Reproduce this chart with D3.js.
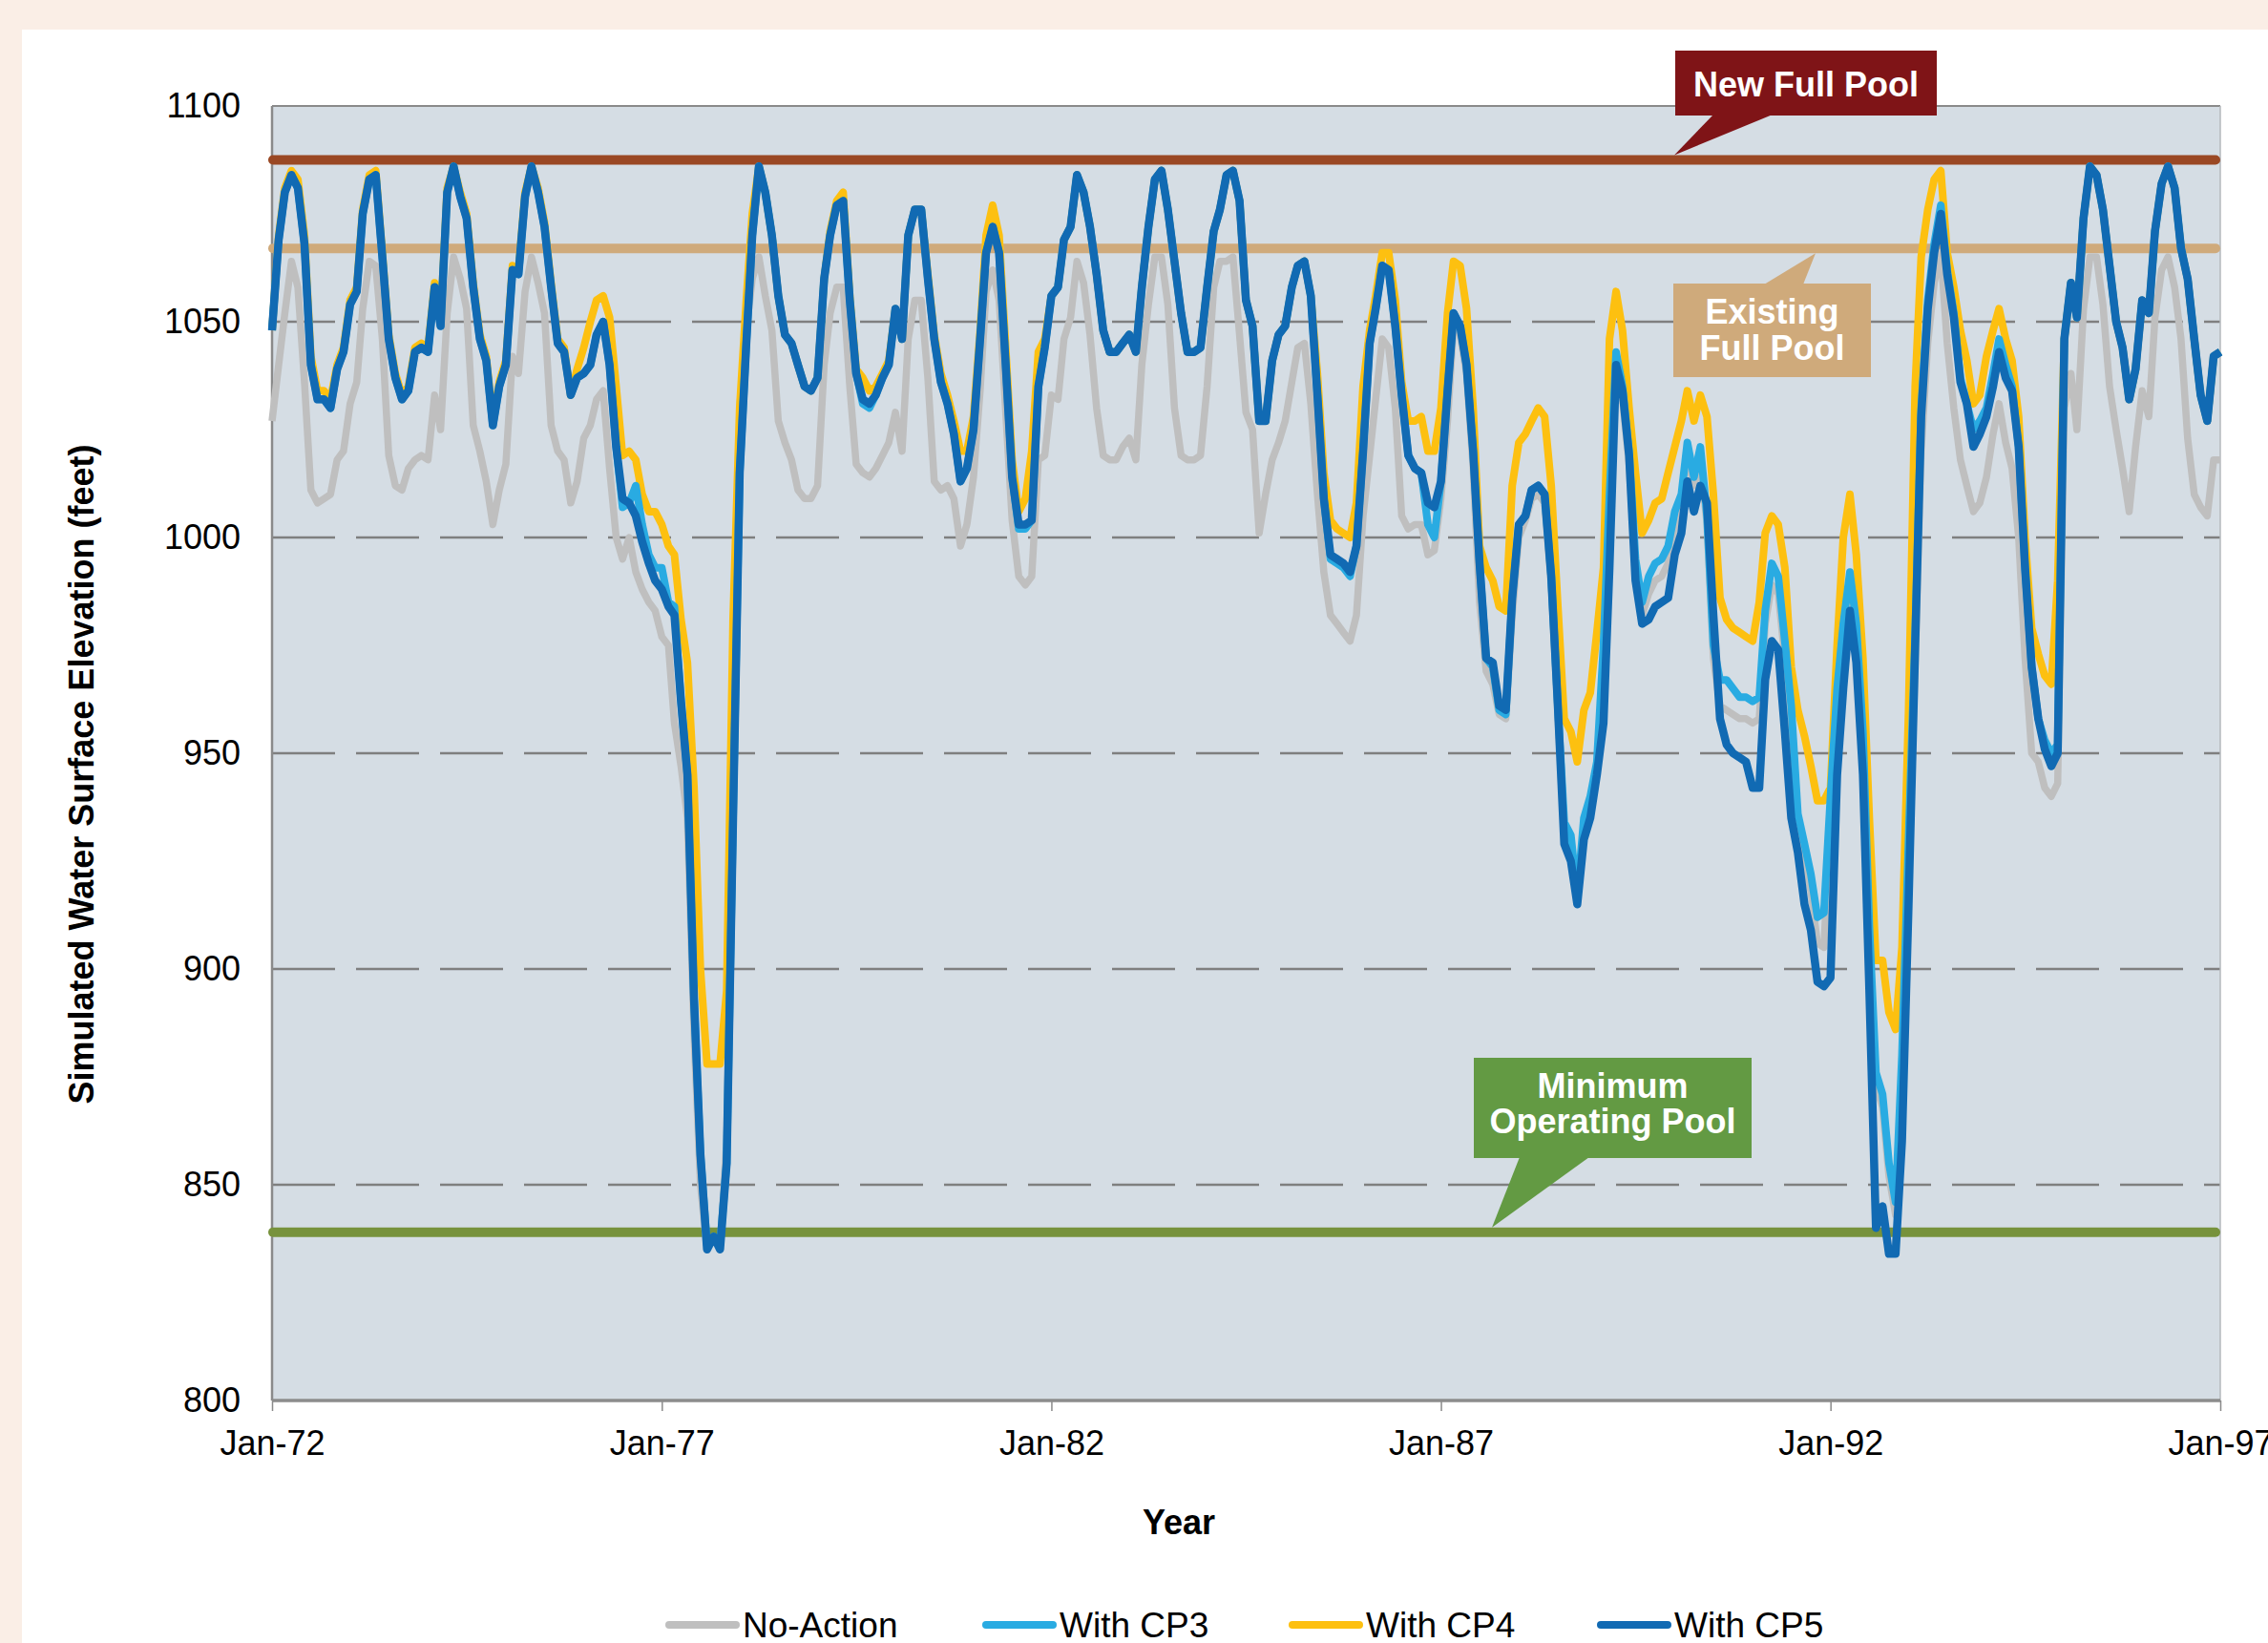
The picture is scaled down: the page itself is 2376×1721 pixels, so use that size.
<!DOCTYPE html>
<html><head><meta charset="utf-8">
<script src="https://cdn.jsdelivr.net/npm/d3@7"></script>
<style>
html,body{margin:0;padding:0;background:#FAEEE6;}
svg{display:block;}
text{font-family:"Liberation Sans",Arial,Helvetica,sans-serif;}
</style></head><body>
<svg id="chart" width="2376" height="1721"></svg>
<script>
// ---------------- DATA ----------------
const startDate = "Jan-72";           // first monthly value
const xTickLabels = ["Jan-72","Jan-77","Jan-82","Jan-87","Jan-92","Jan-97"];
const yTicks = [800, 850, 900, 950, 1000, 1050, 1100];
const seriesNames = ["No-Action", "With CP3", "With CP4", "With CP5"];
const newFullPool = 1087.5;
const existingFullPool = 1067;
const minOperatingPool = 839;

const noAction = [
1027,1040,1052,1064,1058,1036,1011,1008,1009,1010,
1018,1020,1031,1036,1053,1064,1063,1046,1019,1012,
1011,1016,1018,1019,1018,1033,1025,1052,1065,1060,
1053,1026,1020,1013,1003,1011,1017,1042,1038,1057,
1065,1059,1052,1026,1020,1018,1008,1013,1023,1026,
1032,1034,1016,1000,995,1000,992,988,985,983,
977,975,957,947,935,885,850,835,838,835,
860,940,1030,1048,1060,1065,1056,1048,1027,1022,
1018,1011,1009,1009,1012,1040,1052,1058,1058,1035,
1017,1015,1014,1016,1019,1022,1029,1020,1046,1055,
1055,1037,1013,1011,1012,1009,998,1003,1014,1034,
1057,1062,1055,1029,1004,991,989,991,1018,1019,
1033,1032,1046,1051,1064,1059,1047,1030,1019,1018,
1018,1021,1023,1018,1040,1054,1065,1065,1054,1030,
1019,1018,1018,1019,1035,1058,1064,1064,1065,1047,
1029,1025,1001,1010,1018,1022,1027,1036,1044,1045,
1031,1010,992,982,980,978,976,982,1005,1019,
1032,1046,1044,1030,1005,1002,1003,1003,996,997,
1009,1027,1049,1047,1038,1016,985,969,966,959,
958,982,1000,1004,1009,1010,1008,989,960,930,
928,915,932,936,946,968,1005,1040,1032,1017,
992,982,987,990,991,994,1003,1008,1020,1012,
1018,1003,972,961,960,959,958,958,957,958,
980,989,987,972,955,931,925,918,906,905,
935,960,975,986,975,950,905,873,868,852,
843,875,925,970,1020,1045,1059,1066,1045,1030,
1018,1012,1006,1008,1014,1024,1031,1022,1016,1000,
972,950,948,942,940,943,1030,1038,1025,1053,
1065,1065,1054,1035,1025,1016,1006,1021,1034,1028,
1051,1062,1065,1058,1046,1023,1010,1007,1005,1018,
1018
];

const cp3 = [
1048,1069,1080,1084,1081,1068,1040,1032,1032,1030,
1039,1043,1054,1057,1075,1083,1084,1065,1046,1037,
1032,1034,1043,1044,1043,1058,1049,1080,1086,1079,
1074,1058,1046,1041,1026,1035,1040,1062,1061,1079,
1086,1080,1072,1058,1045,1043,1033,1037,1038,1040,
1047,1050,1040,1021,1007,1008,1012,1003,996,993,
993,985,984,962,945,893,857,836,838,836,
855,935,1015,1045,1070,1086,1080,1070,1056,1047,
1045,1040,1035,1034,1037,1060,1070,1077,1078,1055,
1038,1031,1030,1033,1037,1040,1053,1046,1070,1076,
1076,1060,1046,1036,1031,1024,1013,1016,1025,1046,
1066,1072,1066,1040,1014,1002,1002,1004,1035,1044,
1056,1058,1069,1072,1084,1080,1072,1061,1048,1043,
1043,1045,1047,1043,1058,1072,1083,1085,1076,1064,
1052,1043,1043,1044,1058,1071,1076,1084,1085,1078,
1055,1049,1027,1027,1041,1047,1049,1058,1063,1064,
1056,1033,1009,995,994,993,991,998,1020,1045,
1053,1063,1062,1049,1033,1019,1016,1015,1003,1000,
1013,1034,1052,1049,1040,1020,994,972,970,960,
959,986,1003,1005,1011,1012,1010,991,962,934,
931,917,935,940,948,975,1010,1043,1035,1020,
995,985,991,994,995,998,1006,1010,1022,1014,
1021,1005,975,967,967,965,963,963,962,963,
983,994,991,976,961,936,929,922,912,913,
940,965,980,992,980,955,910,876,871,855,
846,880,930,978,1030,1055,1068,1077,1062,1052,
1037,1031,1025,1027,1030,1038,1046,1040,1035,1021,
993,970,958,953,950,952,1046,1059,1051,1074,
1086,1084,1076,1063,1050,1044,1032,1039,1055,1052,
1071,1082,1086,1081,1067,1060,1046,1033,1027,1042,
1043
];

const cp4 = [
1048,1070,1081,1085,1083,1070,1042,1034,1034,1032,
1040,1044,1055,1058,1076,1084,1085,1066,1047,1038,
1033,1035,1044,1045,1044,1059,1050,1081,1086,1080,
1075,1059,1047,1042,1027,1036,1041,1063,1062,1080,
1086,1081,1073,1059,1046,1044,1033,1039,1044,1050,
1055,1056,1051,1035,1019,1020,1018,1010,1006,1006,
1003,998,996,981,971,942,900,878,878,878,
895,981,1030,1055,1075,1086,1080,1070,1056,1047,
1045,1040,1035,1034,1037,1060,1071,1078,1080,1056,
1039,1037,1034,1035,1038,1041,1053,1046,1070,1076,
1076,1061,1047,1038,1033,1027,1020,1020,1028,1048,
1070,1077,1070,1044,1018,1006,1009,1020,1043,1046,
1056,1058,1069,1072,1084,1080,1072,1061,1048,1043,
1043,1045,1047,1043,1058,1072,1083,1085,1076,1064,
1052,1043,1043,1044,1058,1071,1076,1084,1085,1078,
1055,1049,1027,1027,1041,1047,1049,1058,1063,1064,
1056,1038,1015,1004,1002,1001,1000,1008,1035,1048,
1056,1066,1066,1055,1036,1027,1027,1028,1020,1020,
1030,1052,1064,1063,1053,1030,998,993,990,984,
983,1012,1022,1024,1027,1030,1028,1012,985,958,
955,948,960,964,978,993,1046,1057,1048,1030,
1015,1001,1004,1008,1009,1015,1021,1027,1034,1027,
1033,1028,1010,986,981,979,978,977,976,985,
1001,1005,1003,993,970,960,954,947,939,939,
942,975,1000,1010,996,972,935,902,902,890,
886,905,960,1035,1065,1076,1083,1085,1066,1058,
1048,1041,1031,1033,1042,1048,1053,1046,1041,1028,
1000,979,973,968,966,990,1046,1059,1051,1074,
1086,1084,1076,1063,1050,1044,1032,1039,1055,1052,
1071,1082,1086,1081,1067,1060,1046,1033,1027,1042,
1043
];

const cp5 = [
1048,1069,1080,1084,1081,1068,1040,1032,1032,1030,
1039,1043,1054,1057,1075,1083,1084,1065,1046,1037,
1032,1034,1043,1044,1043,1058,1049,1080,1086,1079,
1074,1058,1046,1041,1026,1035,1040,1062,1061,1079,
1086,1080,1072,1058,1045,1043,1033,1037,1038,1040,
1047,1050,1040,1021,1009,1008,1005,999,994,990,
988,984,982,962,945,893,857,835,838,835,
855,935,1015,1045,1070,1086,1080,1070,1056,1047,
1045,1040,1035,1034,1037,1060,1070,1077,1078,1055,
1038,1032,1031,1033,1037,1040,1053,1046,1070,1076,
1076,1060,1046,1036,1031,1024,1013,1016,1025,1046,
1066,1072,1066,1040,1014,1003,1003,1004,1035,1044,
1056,1058,1069,1072,1084,1080,1072,1061,1048,1043,
1043,1045,1047,1043,1058,1072,1083,1085,1076,1064,
1052,1043,1043,1044,1058,1071,1076,1084,1085,1078,
1055,1049,1027,1027,1041,1047,1049,1058,1063,1064,
1056,1033,1009,996,995,994,992,998,1020,1045,
1053,1063,1062,1049,1033,1019,1016,1015,1008,1007,
1013,1034,1052,1049,1040,1020,994,972,971,961,
960,986,1003,1005,1011,1012,1010,991,962,929,
925,915,930,935,945,957,993,1040,1034,1019,
990,980,981,984,985,986,996,1001,1013,1006,
1012,1008,982,958,952,950,949,948,942,942,
967,976,974,955,935,927,915,909,897,896,
898,945,965,983,971,945,895,840,845,834,
834,860,915,975,1028,1053,1066,1075,1061,1051,
1036,1031,1021,1024,1028,1035,1043,1037,1034,1021,
993,970,958,951,947,950,1046,1059,1051,1074,
1086,1084,1076,1063,1050,1044,1032,1039,1055,1052,
1071,1082,1086,1081,1067,1060,1046,1033,1027,1042,
1043
];

// ---------------- CHART ----------------
const W = 2376, H = 1721;
const plot = {left: 285, right: 2326, top: 111, bottom: 1467};
const svg = d3.select("#chart");
const parse = d3.timeParse("%b-%y");
const t0 = parse(startDate);
const x = d3.scaleTime().domain([parse(xTickLabels[0]), parse(xTickLabels[xTickLabels.length-1])]).range([plot.left, plot.right]);
const y = d3.scaleLinear().domain([d3.min(yTicks), d3.max(yTicks)]).range([plot.bottom, plot.top]);

// backgrounds
svg.append("rect").attr("width", W).attr("height", H).attr("fill", "#FAEEE6");
svg.append("rect").attr("x", 23).attr("y", 31).attr("width", W - 23).attr("height", H - 31).attr("fill", "#FFFFFF");
svg.append("rect").attr("x", plot.left).attr("y", plot.top)
  .attr("width", plot.right - plot.left).attr("height", plot.bottom - plot.top).attr("fill", "#D5DDE4");

// gridlines
svg.append("g").selectAll("line").data(yTicks.filter(v => v > d3.min(yTicks) && v < d3.max(yTicks)))
  .join("line")
  .attr("x1", plot.left).attr("x2", plot.right)
  .attr("y1", d => y(d)).attr("y2", d => y(d))
  .attr("stroke", "#7F7F7F").attr("stroke-width", 2.5).attr("stroke-dasharray", "66,22");

// frame
const frame = svg.append("g");
frame.append("line").attr("x1", plot.left).attr("x2", plot.right).attr("y1", plot.top).attr("y2", plot.top).attr("stroke", "#8A8A8A").attr("stroke-width", 2);
frame.append("line").attr("x1", plot.right).attr("x2", plot.right).attr("y1", plot.top).attr("y2", plot.bottom).attr("stroke", "#B5B9BD").attr("stroke-width", 1.5);
frame.append("line").attr("x1", plot.left).attr("x2", plot.left).attr("y1", plot.top).attr("y2", plot.bottom).attr("stroke", "#8A8A8A").attr("stroke-width", 2.5);

// reference lines
const refs = [
  {v: newFullPool, c: "#9A4824"},
  {v: existingFullPool, c: "#CFAA7B"},
  {v: minOperatingPool, c: "#77923C"}
];
svg.append("g").selectAll("line").data(refs).join("line")
  .attr("x1", plot.left + 1).attr("x2", plot.right - 5)
  .attr("y1", d => y(d.v)).attr("y2", d => y(d.v))
  .attr("stroke", d => d.c).attr("stroke-width", 10).attr("stroke-linecap", "round");

// series
const dateOf = i => d3.timeMonth.offset(t0, i);
const series = [
  {name: seriesNames[0], vals: noAction, c: "#BFBFBF", w: 7.5},
  {name: seriesNames[2], vals: cp4, c: "#FDC010", w: 8},
  {name: seriesNames[1], vals: cp3, c: "#29ABE2", w: 8},
  {name: seriesNames[3], vals: cp5, c: "#116AB3", w: 8.5}
];
const line = d3.line().x((d, i) => x(dateOf(i))).y(d => y(d));
svg.append("g").selectAll("path").data(series).join("path")
  .attr("d", d => line(d.vals))
  .attr("fill", "none").attr("stroke", d => d.c).attr("stroke-width", d => d.w)
  .attr("stroke-linejoin", "round").attr("stroke-linecap", "butt");

// x axis
const xAxis = d3.axisBottom(x).tickValues(xTickLabels.map(parse))
  .tickFormat(d3.timeFormat("%b-%y")).tickSize(11).tickPadding(20);
const gx = svg.append("g").attr("transform", `translate(0,${plot.bottom})`).call(xAxis);
gx.select(".domain").remove();
gx.selectAll(".tick line").attr("stroke", "#8A8A8A").attr("stroke-width", 1.5);
gx.selectAll(".tick text").attr("font-size", 36).attr("fill", "#000");
svg.append("line").attr("x1", plot.left).attr("x2", plot.right).attr("y1", plot.bottom).attr("y2", plot.bottom)
  .attr("stroke", "#8C8C8C").attr("stroke-width", 3.5);

// y axis
const yAxis = d3.axisLeft(y).tickValues(yTicks).tickSize(0).tickPadding(33).tickFormat(d3.format("d"));
const gy = svg.append("g").attr("transform", `translate(${plot.left},0)`).call(yAxis);
gy.select(".domain").remove();
gy.selectAll(".tick text").attr("font-size", 36).attr("fill", "#000");

// axis titles
svg.append("text").attr("x", 1235).attr("y", 1607).attr("text-anchor", "middle")
  .attr("font-size", 36).attr("font-weight", "bold").attr("fill", "#000").text("Year");
svg.append("text").attr("transform", "translate(98,811) rotate(-90)").attr("text-anchor", "middle")
  .attr("font-size", 36).attr("font-weight", "bold").attr("fill", "#000")
  .text("Simulated Water Surface Elevation (feet)");

// annotations
function callout(box, ptr, fill, lines) {
  const g = svg.append("g");
  g.append("path").attr("d", `M${ptr[0][0]},${ptr[0][1]}L${ptr[1][0]},${ptr[1][1]}L${ptr[2][0]},${ptr[2][1]}Z`).attr("fill", fill);
  g.append("rect").attr("x", box.x).attr("y", box.y).attr("width", box.w).attr("height", box.h).attr("fill", fill);
  lines.forEach(l => g.append("text").attr("x", box.x + box.w / 2).attr("y", l.y)
    .attr("text-anchor", "middle").attr("font-size", 36).attr("font-weight", "bold")
    .attr("fill", "#FFFFFF").text(l.t));
}
callout({x: 1755, y: 53, w: 274, h: 68},
  [[1795, 120], [1857, 120], [1754, y(newFullPool) - 5]], "#7F1417",
  [{t: "New Full Pool", y: 101}]);
callout({x: 1753, y: 297, w: 207, h: 98},
  [[1848, 298], [1889, 298], [1902, y(existingFullPool) + 5]], "#CFAA7B",
  [{t: "Existing", y: 339}, {t: "Full Pool", y: 377}]);
callout({x: 1544, y: 1108, w: 291, h: 105},
  [[1592, 1212], [1665, 1212], [1563, y(minOperatingPool) - 5]], "#639A43",
  [{t: "Minimum", y: 1150}, {t: "Operating Pool", y: 1187}]);

// legend
const legendItems = [
  {name: seriesNames[0], c: "#BFBFBF", x: 697},
  {name: seriesNames[1], c: "#29ABE2", x: 1029},
  {name: seriesNames[2], c: "#FDC010", x: 1350},
  {name: seriesNames[3], c: "#116AB3", x: 1673}
];
const lg = svg.append("g").selectAll("g").data(legendItems).join("g")
  .attr("transform", d => `translate(${d.x},1702)`);
lg.append("line").attr("x1", 4).attr("x2", 74).attr("y1", 0).attr("y2", 0)
  .attr("stroke", d => d.c).attr("stroke-width", 8).attr("stroke-linecap", "round");
lg.append("text").attr("x", 81).attr("y", 13).attr("font-size", 37).attr("fill", "#000").text(d => d.name);
</script>
</body></html>
